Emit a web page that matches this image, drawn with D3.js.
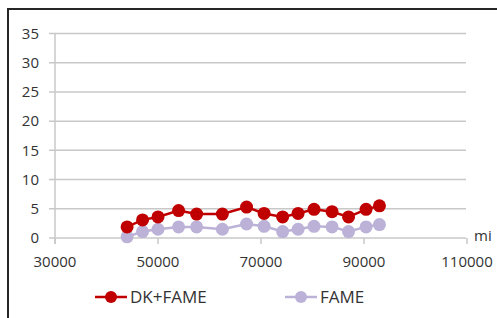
<!DOCTYPE html>
<html><head><meta charset="utf-8">
<script src="https://cdn.jsdelivr.net/npm/d3@7"></script>
<style>body{margin:0;background:#fff;}svg{display:block;font-family:"Open Sans","Liberation Sans",sans-serif;}</style>
</head><body>
<svg id="c" width="497" height="318"></svg>
<script>
const mileage = [44000, 47000, 50000, 54000, 57500, 62500, 67200, 70600, 74200, 77200, 80300, 83800, 87000, 90400, 93000];
const dkFame = [1.9, 3.1, 3.6, 4.7, 4.1, 4.1, 5.3, 4.2, 3.6, 4.2, 4.9, 4.5, 3.6, 4.9, 5.5];
const fame = [0.2, 1.1, 1.5, 1.9, 1.9, 1.5, 2.4, 2.0, 1.1, 1.5, 2.0, 1.9, 1.1, 1.9, 2.3];
const xTicks = [30000, 50000, 70000, 90000, 110000];
const yTicks = [0, 5, 10, 15, 20, 25, 30, 35];
const seriesNames = ["DK+FAME", "FAME"];
const colors = ["#c00000", "#bcb2d8"];

const svg = d3.select("#c");
svg.append("rect").attr("x", 8).attr("y", 9).attr("width", 520).attr("height", 340)
  .attr("fill", "none").attr("stroke", "#262626").attr("stroke-width", 2);

const x = d3.scaleLinear().domain([30000, 110000]).range([55, 467]);
const y = d3.scaleLinear().domain([0, 35]).range([238, 33.5]);

svg.append("g").selectAll("line").data(yTicks).join("line")
  .attr("x1", 49).attr("x2", 466).attr("y1", d => y(d)).attr("y2", d => y(d))
  .attr("stroke", "#c8c8c8").attr("stroke-width", 1.5);
svg.append("line").attr("x1", 55).attr("x2", 55).attr("y1", y(35)).attr("y2", 244)
  .attr("stroke", "#c8c8c8").attr("stroke-width", 1.5);
svg.append("g").selectAll("line").data(xTicks).join("line")
  .attr("x1", d => x(d)).attr("x2", d => x(d)).attr("y1", 238).attr("y2", 244)
  .attr("stroke", "#c8c8c8").attr("stroke-width", 1.5);

svg.append("g").selectAll("text").data(yTicks).join("text")
  .attr("x", 39).attr("y", d => y(d)).attr("dy", "0.35em").attr("text-anchor", "end")
  .attr("font-size", 15).attr("fill", "#333").text(d => d);
svg.append("g").selectAll("text").data(xTicks).join("text")
  .attr("x", d => x(d)).attr("y", 262).attr("dy", "0.35em").attr("text-anchor", "middle")
  .attr("font-size", 15).attr("fill", "#333").text(d => d);
svg.append("text").attr("x", 474).attr("y", 241).attr("font-size", 15).attr("fill", "#333").text("mi");

const data = [dkFame, fame];
const line = d3.line().x((d, i) => x(mileage[i])).y(d => y(d));
[1, 0].forEach(s => {
  svg.append("path").datum(data[s]).attr("d", line).attr("fill", "none")
    .attr("stroke", colors[s]).attr("stroke-width", 2.5);
  svg.append("g").selectAll("circle").data(data[s]).join("circle")
    .attr("cx", (d, i) => x(mileage[i])).attr("cy", d => y(d)).attr("r", 6.5)
    .attr("fill", colors[s]);
});

const leg = [{x: 95, name: seriesNames[0], c: colors[0]}, {x: 285, name: seriesNames[1], c: colors[1]}];
leg.forEach(l => {
  svg.append("line").attr("x1", l.x).attr("x2", l.x + 32).attr("y1", 297).attr("y2", 297)
    .attr("stroke", l.c).attr("stroke-width", 2.5);
  svg.append("circle").attr("cx", l.x + 16).attr("cy", 297).attr("r", 6).attr("fill", l.c);
  svg.append("text").attr("x", l.x + 35).attr("y", 297).attr("dy", "0.35em")
    .attr("font-size", 17).attr("fill", "#333").text(l.name);
});
</script>
</body></html>
